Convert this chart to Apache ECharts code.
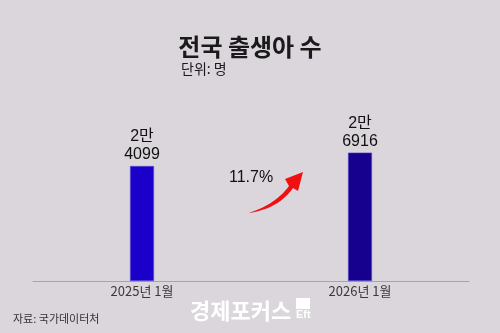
<!DOCTYPE html>
<html><head><meta charset="utf-8">
<script src="https://cdn.jsdelivr.net/npm/echarts@6/dist/echarts.min.js"></script>
<style>html,body{margin:0;padding:0;background:#dbd5dc;}#c{width:500px;height:333px;}</style>
</head><body><div id="c"></div>
<script>
const categories = ['2025년 1월', '2026년 1월'];
const births = [24099, 26916];
const barLabels = ['2만\n4099', '2만\n6916'];
const barColors = ['#1a00c8', '#16008e'];
const changeText = '11.7%';

function quad(p0, c, p1, n) {
  const pts = [];
  for (let i = 0; i <= n; i++) {
    const t = i / n, u = 1 - t;
    pts.push([u*u*p0[0] + 2*u*t*c[0] + t*t*p1[0], u*u*p0[1] + 2*u*t*c[1] + t*t*p1[1]]);
  }
  return pts;
}
const arrowPts = [].concat(
  quad([249,213], [276,204], [289,186], 16),
  [[285,179], [303,172], [298,191]],
  quad([293,188], [279,208], [250,213], 16)
);

const chart = echarts.init(document.getElementById('c'), null, {renderer: 'canvas'});
chart.setOption({
  backgroundColor: '#dbd5dc',
  animation: false,
  title: [
    {text: '전국 출생아 수', left: 'center', top: 30,
     textStyle: {fontFamily: 'Noto Sans CJK KR', fontWeight: 'bold', fontSize: 24, color: '#1a1a1a'}},
    {text: '단위: 명', left: 176, top: 57,
     textStyle: {fontFamily: 'Noto Sans CJK KR', fontWeight: 'normal', fontSize: 14, color: '#1a1a1a'}},
    {text: '자료: 국가데이터처', left: 8, top: 308,
     textStyle: {fontFamily: 'Noto Sans CJK KR', fontWeight: 'normal', fontSize: 11, color: '#333'}}
  ],
  grid: {left: 33, right: 31, top: 52, bottom: 52},
  xAxis: {
    type: 'category', data: categories,
    axisLine: {lineStyle: {color: '#a9a2aa', width: 1}},
    axisTick: {show: false},
    axisLabel: {fontFamily: 'Noto Sans CJK KR', fontSize: 13, color: '#3a3a3a', margin: 4}
  },
  yAxis: {type: 'value', min: 0, max: 48000, show: false, splitLine: {show: false}},
  series: [{
    type: 'bar', barWidth: 24,
    data: births.map((v, i) => ({value: v, itemStyle: {color: barColors[i], borderColor: '#5d4fd6', borderWidth: 0.6}})),
    label: {
      show: true, position: 'top', distance: 2,
      formatter: p => barLabels[p.dataIndex],
      fontFamily: 'Liberation Sans, Noto Sans CJK KR', fontSize: 16, lineHeight: 18, color: '#111'
    }
  }],
  graphic: [
    {type: 'text', left: 229, top: 170,
     style: {text: changeText, font: '16px "Liberation Sans"', fill: '#111'}},
    {type: 'polygon', shape: {points: arrowPts}, style: {fill: '#f01010'}},
    {type: 'text', left: 190, top: 300,
     style: {text: '경제포커스', font: 'bold 22px "Noto Sans CJK KR"', fill: '#ffffff'}},
    {type: 'rect', shape: {x: 296, y: 298, width: 14, height: 11}, style: {fill: '#ffffff'}},
    {type: 'text', left: 296, top: 309,
     style: {text: 'Eft', font: 'bold 11px "Liberation Sans"', fill: '#ffffff'}}
  ]
});
</script></body></html>
